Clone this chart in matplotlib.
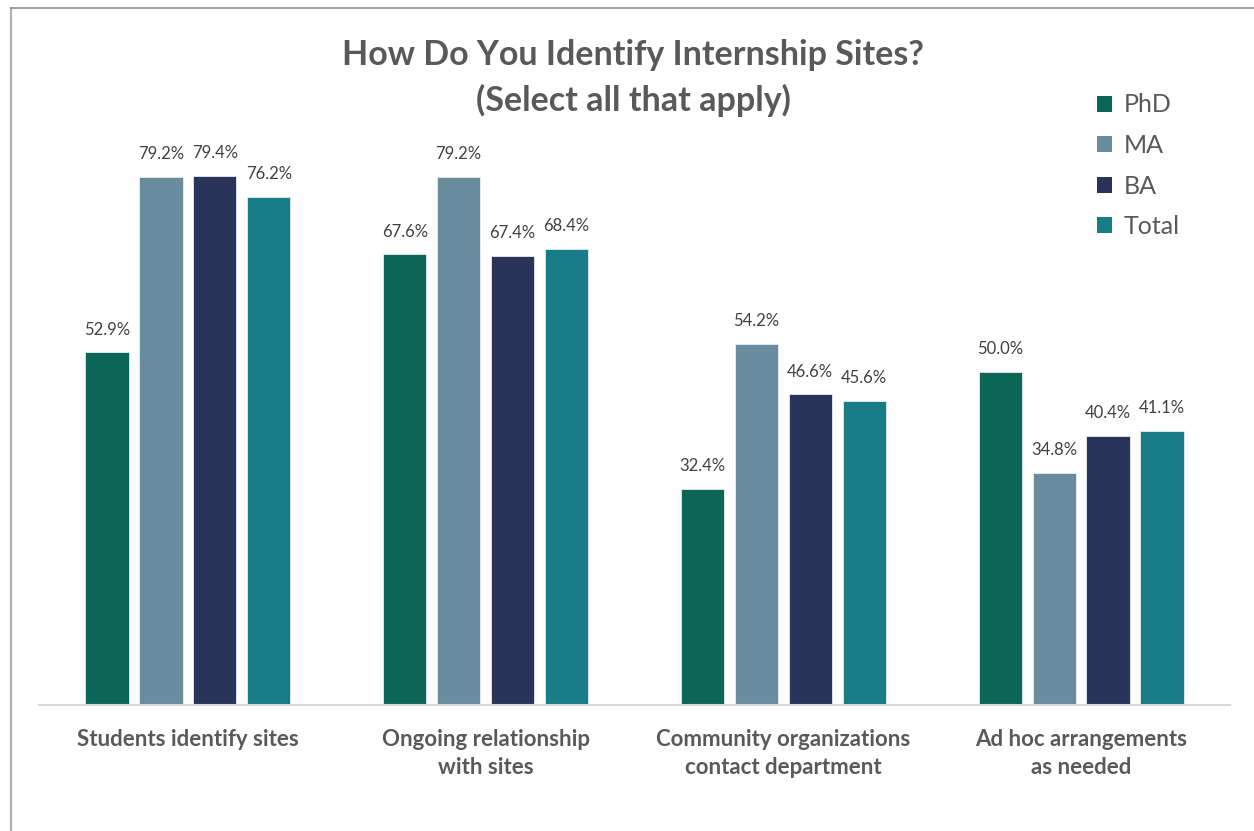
import matplotlib
matplotlib.use("Agg")
import matplotlib.pyplot as plt
import numpy as np
from matplotlib.lines import Line2D
from matplotlib.patches import Patch

categories = ["Students identify sites", "Ongoing relationship\nwith sites",
              "Community organizations\ncontact department", "Ad hoc arrangements\nas needed"]
series_names = ["PhD", "MA", "BA", "Total"]
phd = [52.9, 67.6, 32.4, 50.0]
ma = [79.2, 79.2, 54.2, 34.8]
ba = [79.4, 67.4, 46.6, 40.4]
total = [76.2, 68.4, 45.6, 41.1]
values = [phd, ma, ba, total]
colors = ["#0B6655", "#6A8C9F", "#2A335A", "#187D87"]

plt.rcParams['font.family'] = ['Lato', 'DejaVu Sans']

W, H = 1254, 831
fig = plt.figure(figsize=(W / 100, H / 100), dpi=100)
ax = fig.add_axes([39 / W, (H - 705) / H, (1230 - 39) / W, (705 - 105) / H])

x = np.arange(len(categories))
step = 0.181
width = 0.145
for i, (name, vals, c) in enumerate(zip(series_names, values, colors)):
    pos = x + (i - 1.5) * step
    bars = ax.bar(pos, vals, width=width, color=c, edgecolor="#E8EEF0", linewidth=0.6, label=name)
    for b, v in zip(bars, vals):
        ax.text(b.get_x() + b.get_width() / 2, v + 2.2, f"{v:.1f}%", ha="center", va="bottom",
                fontsize=12, color="#404040")

ax.set_xlim(-0.5, len(categories) - 0.5)
ax.set_ylim(0, 90)
ax.set_yticks([])
ax.set_xticks(x)
ax.set_xticklabels(categories, fontsize=16, fontweight="bold", color="#595959", linespacing=1.45)
ax.tick_params(axis="x", length=0, pad=17)
for s in ["top", "right", "left"]:
    ax.spines[s].set_visible(False)
ax.spines["bottom"].set_color("#D9D9D9")
ax.spines["bottom"].set_linewidth(1.5)

fig.text(633 / W, 1 - 55 / H, "How Do You Identify Internship Sites?", ha="center", va="center",
         fontsize=24.5, fontweight="bold", color="#595959")
fig.text(633 / W, 1 - 100 / H, "(Select all that apply)", ha="center", va="center",
         fontsize=24.5, fontweight="bold", color="#595959")

handles = [Patch(facecolor=c, edgecolor="none") for c in colors]
leg = fig.legend(handles, series_names, loc="upper left", bbox_to_anchor=(1074 / W, 1 - 71 / H),
                 frameon=False, fontsize=18, labelcolor="#595959", handlelength=0.6, handleheight=0.6,
                 handletextpad=0.5, labelspacing=0.7)

# frame lines
fig.add_artist(Line2D([11 / W, 11 / W], [0, 1 - 8 / H], transform=fig.transFigure, color="#B0B0B0", lw=1.5))
fig.add_artist(Line2D([11 / W, 1], [1 - 8 / H, 1 - 8 / H], transform=fig.transFigure, color="#8C8C8C", lw=1.2))

fig.savefig("out.png", dpi=100, facecolor="white")
